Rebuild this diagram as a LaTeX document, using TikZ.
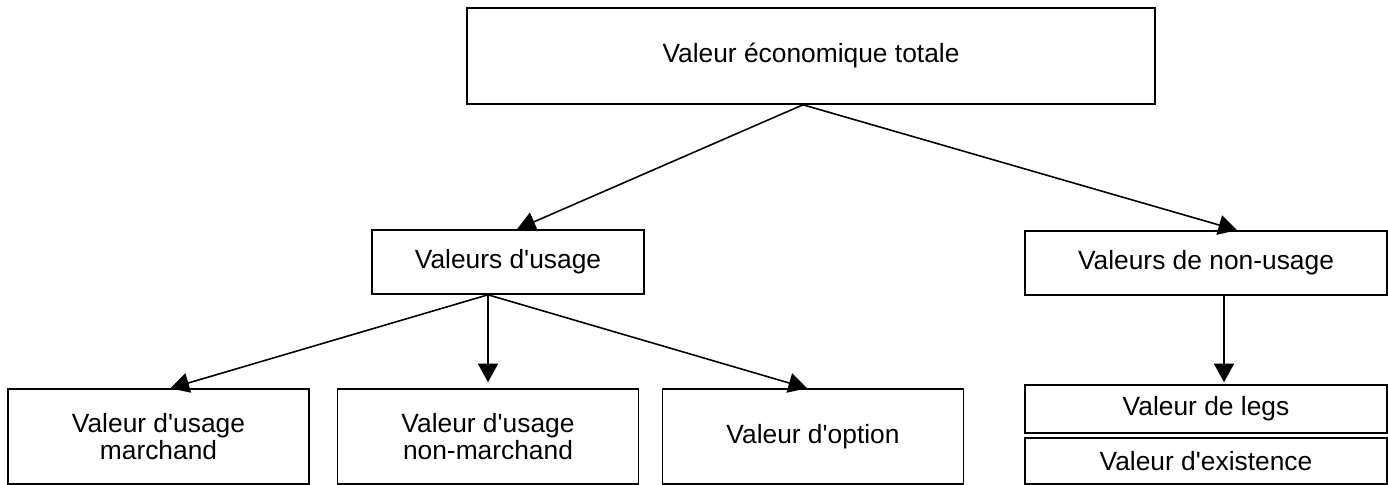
\documentclass[tikz,border=0pt]{standalone}
\usepackage{fontspec}
\setmainfont{Liberation Sans}
\usepackage{tikz}
\usetikzlibrary{arrows.meta,positioning}
\definecolor{boxline}{HTML}{000000}
\newcommand{\apos}{\textquotesingle}
\tikzset{
  >={Triangle[length=3.7mm,width=4mm]},
  % boîtes
  vbox/.style={rectangle,draw=boxline,fill=white,line width=0.9pt,inner sep=0pt,
               align=center,font=\fontsize{15}{15.8}\selectfont},
  topbox/.style={vbox,minimum width=13.76cm,minimum height=1.92cm},
  midbox/.style={vbox,minimum height=1.28cm},
  lowbox/.style={vbox,minimum width=6.02cm,minimum height=1.9cm},
  nubox/.style={vbox,minimum width=7.24cm},
  % flèches
  va/.style={->,draw=boxline,line width=0.9pt},
}
\begin{document}
\begin{tikzpicture}
  \useasboundingbox (0,0) rectangle (27.76,-9.7);
  \node[topbox] (vet) at (16.22,-1.12) {Valeur économique totale};
  \node[midbox,minimum width=5.44cm] (usage) at (10.16,-5.24) {Valeurs d\apos usage};
  \node[midbox,minimum width=7.24cm] (nonusage) at (24.12,-5.26) {Valeurs de non-usage};
  \node[lowbox] (march) at (3.17,-8.73) {Valeur d\apos usage\\marchand};
  \node[lowbox] (nonmarch) at (9.76,-8.73) {Valeur d\apos usage\\non-marchand};
  \node[lowbox] (option) at (16.26,-8.73) {Valeur d\apos option};
  \node[nubox,minimum height=0.96cm] (legs) at (24.12,-8.18) {Valeur de legs};
  \node[nubox,minimum height=0.92cm] (exist) at (24.12,-9.22) {Valeur d\apos existence};
  \coordinate (nuout) at ([xshift=0.36cm]nonusage.south);
  \draw[va] ([xshift=-0.16cm]vet.south) -- ([xshift=0.18cm]usage.north);
  \draw[va] ([xshift=-0.16cm]vet.south) -- ([xshift=0.62cm]nonusage.north);
  \draw[va] (usage.south -| nonmarch.north) -- ([xshift=0.24cm]march.north);
  \draw[va,shorten >=0.12cm] (usage.south -| nonmarch.north) -- (nonmarch.north);
  \draw[va] (usage.south -| nonmarch.north) -- ([xshift=-0.12cm]option.north);
  \draw[va,shorten >=0.04cm] (nuout) -- (nuout |- legs.north);
\end{tikzpicture}
\end{document}
